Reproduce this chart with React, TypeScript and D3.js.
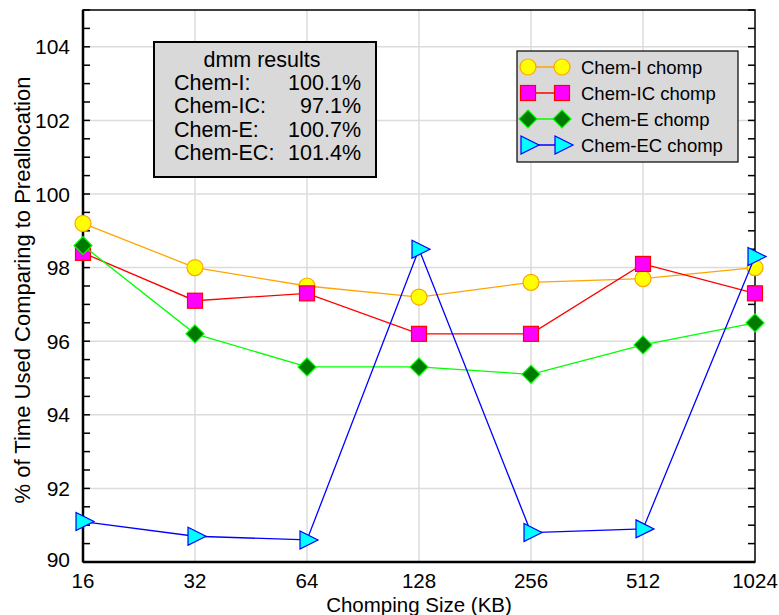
import React from 'react';
import * as d3 from 'd3';

const sizes = ['16', '32', '64', '128', '256', '512', '1024'];
const chemI = [99.2, 98.0, 97.5, 97.2, 97.6, 97.7, 98.0];
const chemIC = [98.4, 97.1, 97.3, 96.2, 96.2, 98.1, 97.3];
const chemE = [98.6, 96.2, 95.3, 95.3, 95.1, 95.9, 96.5];
const chemEC = [91.1, 90.7, 90.6, 98.5, 90.8, 90.9, 98.3];
const yTicks = [90, 92, 94, 96, 98, 100, 102, 104];
const summaryNames = ['Chem-I:', 'Chem-IC:', 'Chem-E:', 'Chem-EC:'];
const summaryValues = ['100.1%', '97.1%', '100.7%', '101.4%'];

const series = [
  { name: 'Chem-I chomp', values: chemI, line: '#ffa500', fill: '#ffff00', stroke: '#ffa500', shape: 'circle' },
  { name: 'Chem-IC chomp', values: chemIC, line: '#ff0000', fill: '#ff00ff', stroke: '#ff0000', shape: 'square' },
  { name: 'Chem-E chomp', values: chemE, line: '#00ff00', fill: '#007a00', stroke: '#00ff00', shape: 'diamond' },
  { name: 'Chem-EC chomp', values: chemEC, line: '#0000ff', fill: '#00ffff', stroke: '#0000ff', shape: 'triangle' },
];

const W = 779;
const H = 615;
const m = { left: 83, right: 24, top: 10, bottom: 53 };
const font = '"Liberation Sans", Arial, sans-serif';

const Marker = ({ shape, x, y, fill, stroke }: any) => {
  if (shape === 'circle') return <circle cx={x} cy={y} r={8} fill={fill} stroke={stroke} strokeWidth={1.2} />;
  if (shape === 'square') return <rect x={x - 7.5} y={y - 7.5} width={15} height={15} fill={fill} stroke={stroke} strokeWidth={1.2} />;
  if (shape === 'diamond')
    return <path d={`M${x},${y - 9}L${x + 9},${y}L${x},${y + 9}L${x - 9},${y}Z`} fill={fill} stroke={stroke} strokeWidth={1.2} />;
  return <path d={`M${x - 7},${y - 9}L${x + 11},${y}L${x - 7},${y + 9}Z`} fill={fill} stroke={stroke} strokeWidth={1.2} />;
};

export default function App() {
  const x = d3.scalePoint<string>().domain(sizes).range([m.left, W - m.right]);
  const y = d3.scaleLinear().domain([90, 105]).range([H - m.bottom, m.top]);
  const minor = d3.range(90, 105.01, 0.5);
  const x0 = m.left;
  const x1 = W - m.right;
  const y0 = H - m.bottom;
  const y1 = m.top;

  return (
    <svg width={W} height={H} style={{ position: 'absolute', left: 0, top: 0, background: '#fff' }} fontFamily={font}>
      {/* grid */}
      {sizes.slice(1, -1).map((s) => (
        <line key={s} x1={x(s)} x2={x(s)} y1={y0} y2={y1} stroke="#dcdcdc" strokeWidth={1.5} />
      ))}
      {yTicks.slice(1).map((t) => (
        <line key={t} x1={x0} x2={x1} y1={y(t)} y2={y(t)} stroke="#dcdcdc" strokeWidth={1.5} />
      ))}

      {/* frame and ticks */}
      <rect x={x0} y={y1} width={x1 - x0} height={y0 - y1} fill="none" stroke="#000" strokeWidth={1.5} />
      <line x1={x0} x2={x0} y1={y1} y2={y0} stroke="#000" strokeWidth={2.5} />
      <line x1={x0} x2={x1} y1={y0} y2={y0} stroke="#000" strokeWidth={2.5} />
      {minor.map((t) => (
        <g key={t}>
          <line x1={x0} x2={x0 + 7} y1={y(t)} y2={y(t)} stroke="#000" strokeWidth={1.5} />
          <line x1={x1} x2={x1 - 7} y1={y(t)} y2={y(t)} stroke="#000" strokeWidth={1.5} />
        </g>
      ))}
      {yTicks.map((t) => (
        <text key={t} x={x0 - 13} y={y(t) + (t === 90 ? 5 : 7.5)} textAnchor="end" fontSize={21}>
          {t}
        </text>
      ))}
      {sizes.map((s) => (
        <text key={s} x={x(s)} y={y0 + 26} textAnchor="middle" fontSize={20.5}>
          {s}
        </text>
      ))}
      <text x={(x0 + x1) / 2} y={H - 3} textAnchor="middle" fontSize={20.5}>
        Chomping Size (KB)
      </text>
      <text transform={`translate(30,${(y0 + y1) / 2 + 4}) rotate(-90)`} textAnchor="middle" fontSize={22}>
        % of Time Used Comparing to Preallocation
      </text>

      {/* series */}
      {series.map((s) => {
        const line = d3
          .line<number>()
          .x((_, i) => x(sizes[i]) as number)
          .y((d) => y(d));
        return (
          <g key={s.name}>
            <path d={line(s.values) as string} fill="none" stroke={s.line} strokeWidth={1.3} />
            {s.values.map((v, i) => (
              <Marker key={i} shape={s.shape} x={x(sizes[i])} y={y(v)} fill={s.fill} stroke={s.stroke} />
            ))}
          </g>
        );
      })}

      {/* summary box */}
      <rect x={154} y={42} width={222} height={135} fill="#d9d9d9" stroke="#000" strokeWidth={2} />
      <text x={262} y={67} textAnchor="middle" fontSize={21.5}>
        dmm results
      </text>
      {summaryNames.map((n, i) => (
        <g key={n}>
          <text x={174} y={90 + i * 23.4} fontSize={21.5}>
            {n}
          </text>
          <text x={361} y={90 + i * 23.4} textAnchor="end" fontSize={21.5}>
            {summaryValues[i]}
          </text>
        </g>
      ))}

      {/* legend */}
      <rect x={517} y={51} width={221} height={111} fill="#d9d9d9" stroke="#000" strokeWidth={1.2} />
      {series.map((s, i) => {
        const ly = 67 + i * 26;
        return (
          <g key={s.name}>
            <line x1={528} x2={562} y1={ly} y2={ly} stroke={s.line} strokeWidth={1.3} />
            <Marker shape={s.shape} x={528} y={ly} fill={s.fill} stroke={s.stroke} />
            <Marker shape={s.shape} x={562} y={ly} fill={s.fill} stroke={s.stroke} />
            <text x={581} y={ly + 6.5} fontSize={18.5}>
              {s.name}
            </text>
          </g>
        );
      })}
    </svg>
  );
}
